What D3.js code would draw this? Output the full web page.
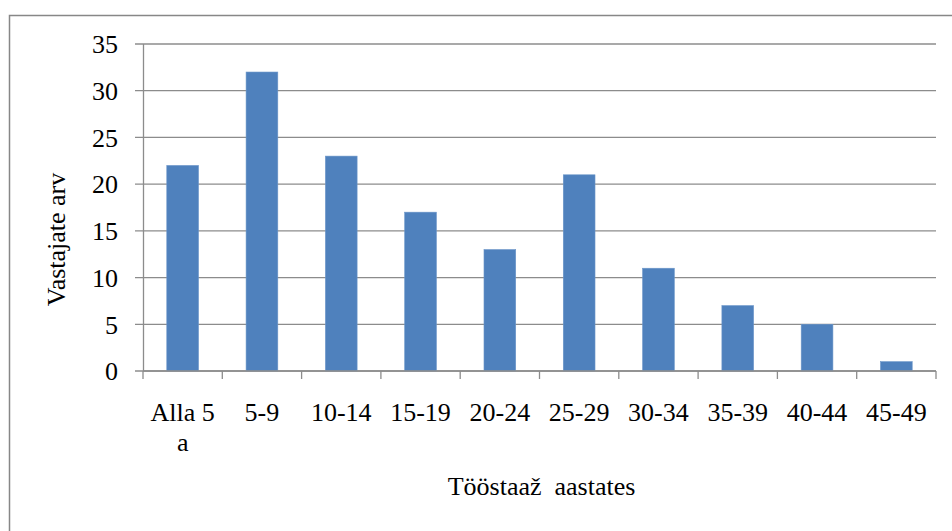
<!DOCTYPE html>
<html>
<head>
<meta charset="utf-8">
<script src="https://cdn.jsdelivr.net/npm/d3@7"></script>
<style>
  body { margin: 0; background: #fff; }
  svg text { font-family: "Liberation Serif", "DejaVu Serif", serif !important; fill: #000; }
</style>
</head>
<body>
<div id="chart"></div>
<script>
// data
let categories = ["Alla 5 a", "5-9", "10-14", "15-19", "20-24", "25-29", "30-34", "35-39", "40-44", "45-49"];
let counts = [22, 32, 23, 17, 13, 21, 11, 7, 5, 1];
let yTicks = [0, 5, 10, 15, 20, 25, 30, 35];

let serif = "'Liberation Serif', 'DejaVu Serif', serif";

let margin = { top: 44, right: 16, bottom: 160, left: 143 };
let width = 952 - margin.left - margin.right,
    height = 531 - margin.top - margin.bottom;

let svg = d3.select("#chart").append("svg")
    .attr("width", 952)
    .attr("height", 531);

// outer frame (runs off the right and bottom edge)
svg.append("rect")
    .attr("x", 9.5)
    .attr("y", 15.5)
    .attr("width", 1200)
    .attr("height", 1200)
    .style("fill", "none")
    .style("stroke", "#878787")
    .style("stroke-width", 1.5);

let g = svg.append("g")
    .attr("transform", "translate(" + margin.left + "," + margin.top + ")");

// scales
let x = d3.scaleBand()
    .domain(categories)
    .range([0, width]);

let xBar = d3.scaleBand()
    .domain(categories)
    .range([0, width])
    .paddingInner(0.6)
    .paddingOuter(0.3);

let y = d3.scaleLinear()
    .domain([0, 35])
    .range([height, 0]);

// gridlines
g.selectAll(".grid")
    .data(yTicks)
    .enter().append("line")
    .attr("class", "grid")
    .attr("x1", -8)
    .attr("x2", width)
    .attr("y1", d => y(d))
    .attr("y2", d => y(d))
    .style("stroke", "#8c8c8c")
    .style("stroke-width", 1.3);

// bars
g.selectAll(".bar")
    .data(counts)
    .enter().append("rect")
    .attr("class", "bar")
    .attr("x", (d, i) => xBar(categories[i]))
    .attr("width", xBar.bandwidth())
    .attr("y", d => y(d))
    .attr("height", d => height - y(d))
    .style("fill", "#4f81bd")
    .style("stroke", "#6b95c8")
    .style("stroke-width", 0.6);

// y axis
let yAxis = d3.axisLeft(y)
    .tickValues(yTicks)
    .tickSize(8)
    .tickPadding(17);

let yG = g.append("g")
    .attr("class", "y-axis")
    .call(yAxis)
    .attr("font-family", serif);
yG.select(".domain").attr("d", "M0.5," + y(35) + "V" + height).style("stroke", "#8c8c8c").style("stroke-width", 1.3);
yG.selectAll(".tick line").remove();
yG.selectAll("text")
    .style("font-family", serif)
    .style("font-size", "26px")
    .attr("dy", "0.34em");

// x axis with ticks at band edges
let xG = g.append("g")
    .attr("class", "x-axis")
    .attr("transform", "translate(0," + height + ")");

xG.append("line")
    .attr("x1", 0).attr("x2", width)
    .attr("y1", 0).attr("y2", 0)
    .style("stroke", "#8c8c8c")
    .style("stroke-width", 1.3);

let edges = categories.map(c => x(c)).concat([width]);
xG.selectAll(".xtick")
    .data(edges)
    .enter().append("line")
    .attr("class", "xtick")
    .attr("x1", d => d).attr("x2", d => d)
    .attr("y1", 0).attr("y2", 8)
    .style("stroke", "#8c8c8c")
    .style("stroke-width", 1.3);

let labels = xG.selectAll(".xlabel")
    .data(categories)
    .enter().append("text")
    .attr("class", "xlabel")
    .attr("x", d => x(d) + x.bandwidth() / 2)
    .attr("y", 50)
    .style("text-anchor", "middle")
    .style("font-family", serif)
    .style("font-size", "26px");

labels.each(function (d) {
    let parts = d === "Alla 5 a" ? ["Alla 5", "a"] : [d];
    let t = d3.select(this);
    parts.forEach((p, i) => {
        t.append("tspan")
            .attr("x", x(d) + x.bandwidth() / 2)
            .attr("dy", i === 0 ? 0 : 30)
            .text(p);
    });
});

// axis titles
g.append("text")
    .attr("x", width / 2 + 2)
    .attr("y", height + 124)
    .style("text-anchor", "middle")
    .style("font-family", serif)
    .style("font-size", "26px")
    .style("white-space", "pre")
    .text("Tööstaaž  aastates");

g.append("text")
    .attr("transform", "rotate(-90)")
    .attr("x", -(height / 2) - 32)
    .attr("y", -78)
    .style("text-anchor", "middle")
    .style("font-family", serif)
    .style("font-size", "26px")
    .text("Vastajate arv");
</script>
</body>
</html>
